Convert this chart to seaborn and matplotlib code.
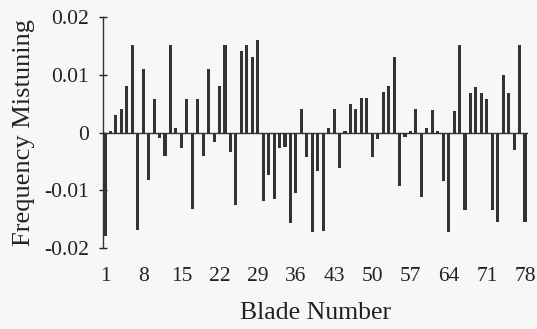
import matplotlib
matplotlib.use("Agg")
import matplotlib.pyplot as plt
import seaborn as sns
import pandas as pd

blades = list(range(1, 79))
mistuning = [
    -0.0180, 0.0003, 0.0030, 0.0040, 0.0081, 0.0151, -0.0169, 0.0110, -0.0082, 0.0058,
    -0.0010, -0.0040, 0.0151, 0.0008, -0.0026, 0.0058, -0.0132, 0.0058, -0.0040, 0.0110,
    -0.0016, 0.0080, 0.0151, -0.0033, -0.0126, 0.0141, 0.0151, 0.0131, 0.0161, -0.0119,
    -0.0073, -0.0116, -0.0027, -0.0025, -0.0157, -0.0104, 0.0040, -0.0042, -0.0172, -0.0067,
    -0.0171, 0.0008, 0.0040, -0.0061, 0.0003, 0.0049, 0.0040, 0.0059, 0.0059, -0.0043,
    -0.0012, 0.0070, 0.0081, 0.0131, -0.0092, -0.0007, 0.0003, 0.0040, -0.0112, 0.0007,
    0.0039, 0.0003, -0.0084, -0.0173, 0.0038, 0.0151, -0.0134, 0.0069, 0.0079, 0.0069,
    0.0058, -0.0134, -0.0155, 0.0100, 0.0069, -0.0030, 0.0151, -0.0155,
]
xtick_vals = [1, 8, 15, 22, 29, 36, 43, 50, 57, 64, 71, 78]
ytick_vals = [-0.02, -0.01, 0.0, 0.01, 0.02]
ytick_labels = ["-0.02", "-0.01", "0", "0.01", "0.02"]

sns.set_theme(style="white")
plt.rcParams["font.family"] = ["Liberation Serif", "DejaVu Serif"]

bg = "#f7f7f7"
ink = "#333333"

fig = plt.figure(figsize=(5.37, 3.29), dpi=100, facecolor=bg)
ax = fig.add_axes([103 / 537, 1 - 248 / 329, (528 - 103) / 537, (248 - 17) / 329])
ax.set_facecolor(bg)

df = pd.DataFrame({"blade": blades, "value": mistuning})
sns.barplot(data=df, x="blade", y="value", native_scale=True, color=ink,
            saturation=1, width=0.58, linewidth=0, errorbar=None, ax=ax)

ax.axhline(0, color=ink, lw=1.0, zorder=3)

ax.set_xlim(0.633, 78.55)
ax.set_ylim(-0.02, 0.02)
ax.set_xticks(xtick_vals)
ax.set_xticklabels([str(v) for v in xtick_vals])
ax.set_yticks(ytick_vals)
ax.set_yticklabels(ytick_labels)

for s in ["top", "right", "bottom"]:
    ax.spines[s].set_visible(False)
ax.spines["left"].set_color(ink)
ax.spines["left"].set_linewidth(1.0)

ax.tick_params(axis="x", length=0, pad=14, labelsize=15.5, colors="#222222")
ax.tick_params(axis="y", direction="inout", length=6, width=1, pad=7,
               labelsize=15.5, colors="#222222", left=True)

ax.set_xlabel("Blade Number", fontsize=18.5, labelpad=11, color="#222222")
ax.set_ylabel("Frequency Mistuning", fontsize=19, labelpad=7, color="#222222")

fig.savefig("out.png", dpi=100, facecolor=bg)
